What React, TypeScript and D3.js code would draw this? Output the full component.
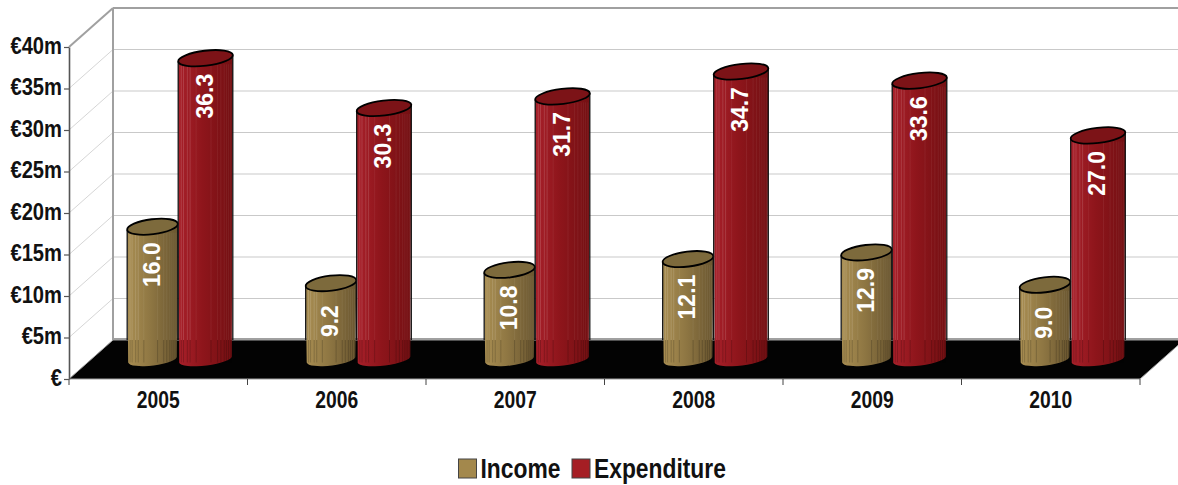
import { useEffect, useRef } from 'react';
import * as d3 from 'd3';

const years = ['2005', '2006', '2007', '2008', '2009', '2010'];
const income = [16.0, 9.2, 10.8, 12.1, 12.9, 9.0];
const expenditure = [36.3, 30.3, 31.7, 34.7, 33.6, 27.0];
const yTicks = [0, 5, 10, 15, 20, 25, 30, 35, 40];
const seriesNames = ['Income', 'Expenditure'];

const width = 1178;
const height = 485;
const depthX = 44;
const depthY = -39;
const squeeze = 0.84;
const tilt = -7;
const ry = 7.5;

// fractions of bar width where the render shows its vertical streaks
const streaks = [0.06, 0.1, 0.17, 0.22, 0.33, 0.6, 0.72, 0.78, 0.84, 0.88, 0.92, 0.96];

const palette = [
    { left: '#a98e52', mid: '#8f7743', right: '#6a5630', top: '#7d6a3c', swatch: '#a3884c', rx: 25.5 },
    { left: '#a8202a', mid: '#8e151b', right: '#741013', top: '#7c1317', swatch: '#a51e24', rx: 27.5 },
];

const x = d3.scaleBand<string>().domain(years).range([69, 1140]);
const y = d3.scaleLinear().domain([0, 40]).range([379, 47]);
const series = d3.scaleBand<string>().domain(seriesNames).range([57, 163]);
// bar heights use the same units as the axis, measured up from the middle of the bar's foot
const baseY = 359.5;
const barHeight = d3.scaleLinear().domain([0, 40]).range([0, 332]);

function cylinderSide(cx: number, topY: number, rx: number) {
    const rad = (tilt * Math.PI) / 180;
    const dx = rx * Math.cos(rad);
    const dy = rx * Math.sin(rad);
    return [
        `M${cx - dx},${topY - dy}`,
        `L${cx - dx + 1},${baseY - dy}`,
        `A${rx - 1},6 ${tilt} 0 0 ${cx + dx - 1},${baseY + dy}`,
        `L${cx + dx},${topY + dy}`,
        `A${rx},${ry} ${tilt} 0 1 ${cx - dx},${topY - dy}`,
        'Z',
    ].join(' ');
}

function Cylinder(props: { cx: number; value: number; index: number }) {
    const { cx, value, index } = props;
    const { rx, top } = palette[index];
    const topY = baseY - barHeight(value);
    const rad = (tilt * Math.PI) / 180;
    const dx = rx * Math.cos(rad);
    const dy = rx * Math.sin(rad);
    const floorY = y(0) + depthY;
    return (
        <g>
            <path d={cylinderSide(cx, topY, rx)} fill={`url(#body${index})`} />
            {streaks.map((s, i) => {
                const sx = cx - rx + s * 2 * rx;
                return (
                    <g key={i}>
                        <line x1={sx} x2={sx} y1={topY + 6} y2={floorY} stroke="#fff" strokeOpacity={i < 4 ? 0.14 : 0.06} />
                        <line x1={sx} x2={sx} y1={floorY} y2={baseY + 3} stroke="#000" strokeOpacity={0.18} />
                    </g>
                );
            })}
            <line x1={cx - dx} x2={cx - dx} y1={topY - dy} y2={floorY} stroke="#111" strokeWidth={1.3} />
            <line x1={cx + dx} x2={cx + dx} y1={topY + dy} y2={floorY} stroke="#111" strokeWidth={1.3} />
            <ellipse
                cx={cx}
                cy={topY}
                rx={rx}
                ry={ry}
                fill={top}
                stroke="#000"
                strokeWidth={1.8}
                transform={`rotate(${tilt} ${cx} ${topY})`}
            />
            <text
                transform={`translate(${cx - 1},${topY + 38}) rotate(-90)`}
                textAnchor="middle"
                dy="0.36em"
                fontSize={23}
                fontWeight="bold"
                fill="#fff"
            >
                {value.toFixed(1)}
            </text>
        </g>
    );
}

export default function App() {
    const xAxisEl = useRef<SVGGElement>(null);
    const yAxisEl = useRef<SVGGElement>(null);

    useEffect(() => {
        if (xAxisEl.current) {
            const g = d3.select(xAxisEl.current);
            const edges = x.domain().map((d) => x(d)!).concat(x.range()[1]);
            g.selectAll('line.edge')
                .data(edges)
                .join('line')
                .attr('class', 'edge')
                .attr('x1', (d) => d)
                .attr('x2', (d) => d)
                .attr('y1', 379)
                .attr('y2', 385)
                .attr('stroke', '#444')
                .attr('stroke-width', 1);
        }
        if (yAxisEl.current) {
            const axis = d3
                .axisLeft(y)
                .tickValues(yTicks)
                .tickSize(5)
                .tickSizeOuter(0)
                .tickPadding(2)
                .tickFormat((d) => (d === 0 ? '€' : `€${d}m`));
            const g = d3.select(yAxisEl.current).call(axis);
            g.select('.domain').attr('stroke', '#555').attr('stroke-width', 1.6);
            g.selectAll('.tick line').attr('stroke', '#555').attr('stroke-width', 1.2);
            g.selectAll('.tick text')
                .attr('font-family', '"Liberation Sans", Arial, sans-serif')
                .attr('font-size', 24)
                .attr('font-weight', 'bold')
                .attr('fill', '#111')
                .attr('x', -7 / squeeze)
                .attr('y', -1.5)
                .attr('transform', `scale(${squeeze},1)`);
        }
    }, []);

    const floor = [
        [69, 379],
        [69 + depthX, 379 + depthY],
        [1140 + depthX, 379 + depthY],
        [1140, 379],
    ];

    return (
        <svg
            width={width}
            height={height}
            viewBox={`0 0 ${width} ${height}`}
            style={{ position: 'absolute', left: 0, top: 0, background: '#fff' }}
            fontFamily={'"Liberation Sans", Arial, sans-serif'}
        >
            <defs>
                {palette.map((p, i) => (
                    <linearGradient key={i} id={`body${i}`} x1="0" x2="1" y1="0" y2="0">
                        <stop offset="0" stopColor={p.left} />
                        <stop offset="0.45" stopColor={p.mid} />
                        <stop offset="1" stopColor={p.right} />
                    </linearGradient>
                ))}
            </defs>

            {yTicks.slice(1, -1).map((t) => (
                <g key={t} stroke="#c9c9c9" strokeWidth={1}>
                    <line x1={69} y1={y(t)} x2={69 + depthX} y2={y(t) + depthY} stroke="#d6d6d6" />
                    <line x1={69 + depthX} y1={y(t) + depthY} x2={width} y2={y(t) + depthY} />
                </g>
            ))}

            <g stroke="#a0a0a0" strokeWidth={2} fill="none">
                <line x1={69} y1={y(40)} x2={69 + depthX} y2={y(40) + depthY} />
                <line x1={69 + depthX} y1={y(40) + depthY} x2={width} y2={y(40) + depthY} />
                <line x1={69 + depthX} y1={y(40) + depthY} x2={69 + depthX} y2={y(0) + depthY} />
                <line x1={69 + depthX} y1={y(0) + depthY - 1} x2={width} y2={y(0) + depthY - 1} />
            </g>

            <polygon points={floor.map((p) => p.join(',')).join(' ')} fill="#030303" stroke="#a0a0a0" strokeWidth={1} />

            {years.map((year, i) => {
                const x0 = x(year)!;
                return (
                    <g key={year}>
                        {[income[i], expenditure[i]].map((v, s) => (
                            <Cylinder
                                key={s}
                                cx={x0 + series(seriesNames[s])! + series.bandwidth() / 2}
                                value={v}
                                index={s}
                            />
                        ))}
                        <text
                            transform={`translate(${x0 + x.bandwidth() / 2},408) scale(${squeeze},1)`}
                            textAnchor="middle"
                            fontSize={23}
                            fontWeight="bold"
                            fill="#111"
                        >
                            {year}
                        </text>
                    </g>
                );
            })}

            <g ref={xAxisEl} />
            <g ref={yAxisEl} transform="translate(69,0)" />

            {seriesNames.map((name, i) => {
                const swatchX = [458.5, 572][i];
                return (
                    <g key={name}>
                        <rect x={swatchX} y={459} width={18} height={19} fill={palette[i].swatch} stroke="#444" strokeWidth={1} />
                        <text
                            transform={`translate(${swatchX + 22},478) scale(0.83,1)`}
                            fontSize={27.5}
                            fontWeight="bold"
                            fill="#111"
                        >
                            {name}
                        </text>
                    </g>
                );
            })}
        </svg>
    );
}
